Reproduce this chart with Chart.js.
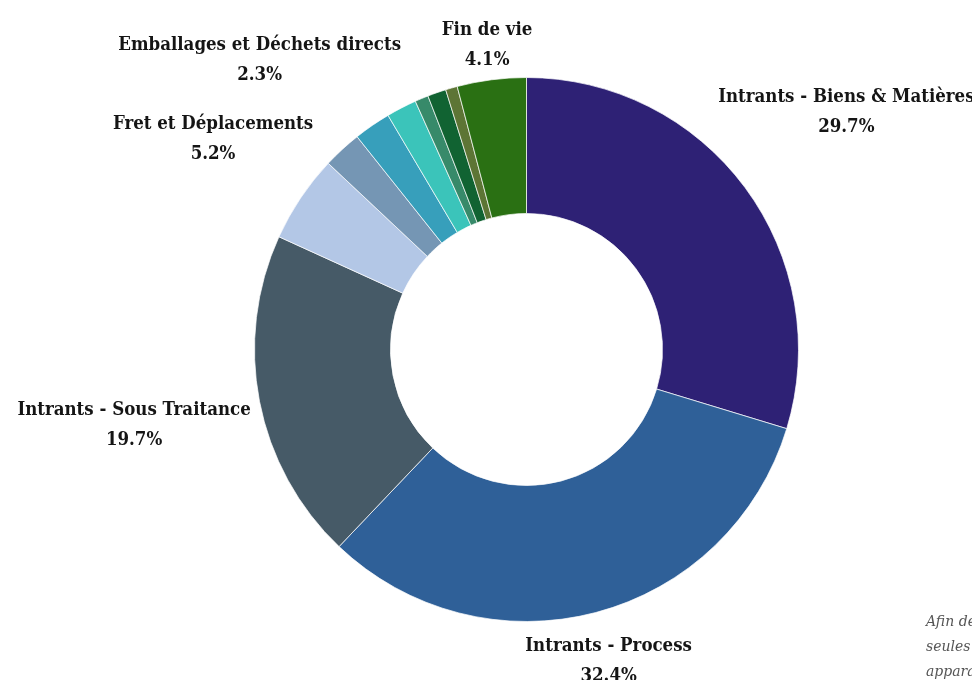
<!DOCTYPE html>
<html lang="fr">
<head>
<meta charset="utf-8">
<script src="https://cdn.jsdelivr.net/npm/chart.js@4.4.1/dist/chart.umd.min.js"></script>
<style>
  html, body { margin: 0; padding: 0; background: #ffffff; overflow: hidden; width: 972px; height: 680px; }
  #wrap { position: relative; width: 972px; height: 700px; }
  canvas { display: block; }
  #note { position: absolute; left: 926px; top: 609px; font: italic 14px "DejaVu Serif", serif; color: #555; line-height: 25px; white-space: nowrap; }
</style>
</head>
<body>
<div id="wrap">
  <canvas id="c" width="972" height="700"></canvas>
  <div id="note">Afin de faciliter la lecture,<br>seules les catégories principales<br>apparaissent sur le graphique.</div>
</div>
<script>
const categories = [
  "Intrants - Biens & Matières",
  "Intrants - Process",
  "Intrants - Sous Traitance",
  "Fret et Déplacements",
  "Emballages et Déchets directs",
  "Immobilisations",
  "Énergie",
  "Déplacements domicile-travail",
  "Utilisation",
  "Hors énergie",
  "Fin de vie"
];
const shares = [29.7, 32.4, 19.7, 5.2, 2.3, 2.2, 1.8, 0.8, 1.1, 0.7, 4.1];
const colors = [
  "#2e2175", "#2f6098", "#465a67", "#b3c7e6", "#7596b4",
  "#379fbb", "#3bc4ba", "#378a6a", "#116332", "#5d7535", "#2a7013"
];
const labelMin = 2.3;

const LABEL_FONT = "bold 18.5px 'DejaVu Serif Condensed', 'DejaVu Serif', serif";
const LINE_H = 30;
const H_PAD = 8;
const V_HALF = 28;
const TEXT_SHIFT = 0;

const outerLabels = {
  id: 'outerLabels',
  afterDraw(chart) {
    const ctx = chart.ctx;
    const meta = chart.getDatasetMeta(0);
    const data = chart.data.datasets[0].data;
    ctx.save();
    ctx.font = LABEL_FONT;
    ctx.fillStyle = '#151515';
    ctx.textAlign = 'center';
    ctx.textBaseline = 'middle';
    meta.data.forEach((arc, i) => {
      const v = data[i];
      if (v < labelMin - 1e-9) return;
      const p = arc.getProps(['x', 'y', 'startAngle', 'endAngle', 'outerRadius'], true);
      const mid = (p.startAngle + p.endAngle) / 2;
      const lines = [chart.data.labels[i], v.toFixed(1) + '%'];
      const w = Math.max(...lines.map(t => ctx.measureText(t).width));
      const cx = Math.cos(mid), cy = Math.sin(mid);
      const d = p.outerRadius + Math.abs(cx) * (w / 2 + H_PAD) + Math.abs(cy) * V_HALF;
      const x = p.x + cx * d;
      const y = p.y + cy * d + TEXT_SHIFT;
      lines.forEach((t, k) => {
        ctx.fillText(t, x, y + (k - (lines.length - 1) / 2) * LINE_H);
      });
    });
    ctx.restore();
  }
};

new Chart(document.getElementById('c'), {
  type: 'doughnut',
  data: {
    labels: categories,
    datasets: [{
      data: shares,
      backgroundColor: colors,
      borderColor: 'rgba(255,255,255,0.7)',
      borderWidth: 1,
      offset: 0,
      hoverOffset: 0
    }]
  },
  options: {
    responsive: false,
    animation: false,
    cutout: '50%',
    layout: { padding: { top: 77, bottom: 78, left: 81, right: 0 } },
    plugins: {
      legend: { display: false },
      tooltip: { enabled: false }
    }
  },
  plugins: [outerLabels]
});
</script>
</body>
</html>
